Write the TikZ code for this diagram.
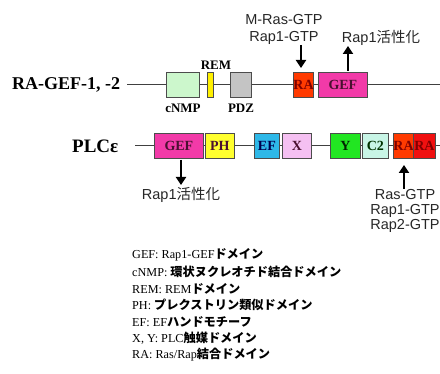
\documentclass[tikz,border=0pt]{standalone}
\usepackage{fontspec}
\setmainfont{Liberation Serif}
\setsansfont{Liberation Sans}
\newfontfamily\jp{Noto Sans CJK JP}
\usetikzlibrary{arrows.meta}
\definecolor{cnmpc}{HTML}{CCF7CC}
\definecolor{remc}{HTML}{FFF000}
\definecolor{pdzc}{HTML}{C4C4C4}
\definecolor{rac}{HTML}{FF3A00}
\definecolor{ra2c}{HTML}{F01010}
\definecolor{gefc}{HTML}{F23AA8}
\definecolor{phc}{HTML}{FFFF2E}
\definecolor{efc}{HTML}{2EB8E8}
\definecolor{xc}{HTML}{F5C0F2}
\definecolor{yc}{HTML}{22E622}
\definecolor{c2c}{HTML}{C8F5E6}
\definecolor{txtd}{HTML}{4A1030}
\tikzset{
  dom/.style={draw=black!70, line width=0.8pt, minimum height=25pt, inner sep=0pt,
    font=\fontsize{14}{14}\selectfont\bfseries, text=txtd, anchor=west},
  bb/.style={line width=1pt, draw=black!75},
  arr/.style={line width=2.4pt, -{Triangle[length=8pt,width=10pt]}},
  lab/.style={font=\fontsize{13}{14}\selectfont\bfseries, inner sep=0pt},
  sans/.style={font=\sffamily\fontsize{14.5}{15}\selectfont, inner sep=0pt, text=black!85},
  leg/.style={font=\fontsize{12.2}{13}\selectfont, inner sep=0pt, anchor=west},
  title/.style={font=\fontsize{18}{19}\selectfont\bfseries, inner sep=0pt}
}
\newcommand{\jb}[1]{{\jp\bfseries #1}}
\begin{document}
\begin{tikzpicture}[x=1pt,y=-1pt]
\useasboundingbox (0,0) rectangle (440,374);
% ---------- row 1 ----------
\node[title, anchor=west] (t1) at (12,85) {RA-GEF-1, -2};
\coordinate (s1) at (127,84.5);
\coordinate (e1) at (440,84.5);
\draw[bb] (s1) -- (e1);
\node[dom, fill=cnmpc, minimum width=33pt] (cnmp) at (166,84.5) {};
\node[dom, fill=remc, minimum width=6pt] (rem) at (207,84.5) {};
\node[dom, fill=pdzc, minimum width=21pt] (pdz) at (230,84.5) {};
\node[dom, fill=rac, minimum width=20pt, text=red!50!black] (ra) at (293,84.5) {RA};
\node[dom, fill=gefc, minimum width=49pt] (gef) at (318,84.5) {GEF};
\node[lab] (remL) at (216,65) {REM};
\node[lab] (cnmpL) at (183,108) {cNMP};
\node[lab] (pdzL) at (241,108) {PDZ};
\node[sans] (mras) at (284,20) {M-Ras-GTP};
\node[sans] (rap1a) at (284,38) {Rap1-GTP};
\node[sans] (act1) at (381,38) {Rap1{\jp 活性化}};
\coordinate (a1s) at (301,45);
\coordinate (a1e) at (301,68);
\draw[arr] (a1s) -- (a1e);
\coordinate (a2s) at (348,71);
\coordinate (a2e) at (348,46);
\draw[arr] (a2s) -- (a2e);
% ---------- row 2 ----------
\node[title, anchor=west, font=\fontsize{19}{19}\selectfont\bfseries] (t2) at (72,146) {PLCε};
\coordinate (s2) at (135,145.5);
\coordinate (e2) at (440,145.5);
\draw[bb] (s2) -- (e2);
\node[dom, fill=gefc, minimum width=49pt] (gef2) at (154,145.5) {GEF};
\node[dom, fill=phc, minimum width=29pt] (ph) at (205,145.5) {PH};
\node[dom, fill=efc, minimum width=25pt, text=blue!30!black] (ef) at (254,145.5) {EF};
\node[dom, fill=xc, minimum width=29pt] (xd) at (282,145.5) {X};
\node[dom, fill=yc, minimum width=30pt, text=green!15!black] (yd) at (330,145.5) {Y};
\node[dom, fill=c2c, minimum width=26pt, text=green!20!black] (c2) at (362,145.5) {C2};
\node[dom, fill=rac, minimum width=20pt, text=red!50!black] (ra1) at (393,145.5) {RA};
\node[dom, fill=ra2c, minimum width=22pt, text=red!50!black] (ra2) at (413,145.5) {RA};
\coordinate (a3s) at (181,160);
\coordinate (a3e) at (181,185);
\draw[arr] (a3s) -- (a3e);
\node[sans] (act2) at (181,195) {Rap1{\jp 活性化}};
\coordinate (a4s) at (404,189);
\coordinate (a4e) at (404,165);
\draw[arr] (a4s) -- (a4e);
\node[sans] (rasg) at (405,195) {Ras-GTP};
\node[sans] (rap1b) at (405,210.5) {Rap1-GTP};
\node[sans] (rap2b) at (405,226) {Rap2-GTP};
% ---------- legend ----------
\node[leg] (l1) at (132,255) {GEF: Rap1-GEF\jb{ドメイン}};
\node[leg] (l2) at (132,272) {cNMP: \jb{環状ヌクレオチド結合ドメイン}};
\node[leg] (l3) at (132,288.5) {REM: REM\jb{ドメイン}};
\node[leg] (l4) at (132,305) {PH: \jb{プレクストリン類似ドメイン}};
\node[leg] (l5) at (132,322) {EF: EF\jb{ハンドモチーフ}};
\node[leg] (l6) at (132,338.5) {X, Y: PLC\jb{触媒ドメイン}};
\node[leg] (l7) at (132,355) {RA: Ras/Rap\jb{結合ドメイン}};
\end{tikzpicture}
\end{document}
